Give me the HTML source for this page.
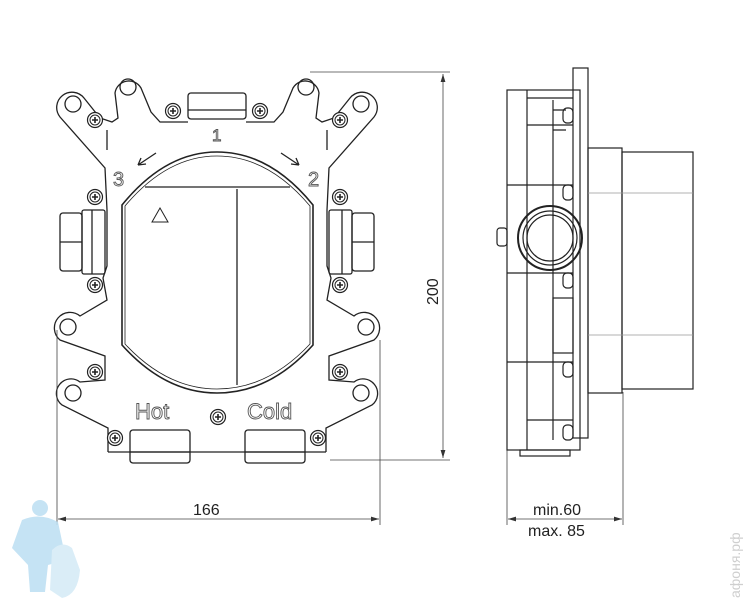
<!DOCTYPE html>
<html><head><meta charset="utf-8"><style>
html,body{margin:0;padding:0;background:#fff}
svg{display:block}
text{font-family:"Liberation Sans",sans-serif}
</style></head><body>
<svg width="750" height="610" viewBox="0 0 750 610" xmlns="http://www.w3.org/2000/svg">
<defs>
<g id="scr"><circle r="7.5" fill="#fff" stroke="#222" stroke-width="1.2"/><circle r="5" fill="none" stroke="#222" stroke-width="1"/><path d="M-3 0H3M0 -3V3" stroke="#222" stroke-width="1.6"/></g>
<marker id="ar" markerWidth="10" markerHeight="6" refX="10" refY="3" orient="auto-start-reverse"><path d="M0 0L10 3L0 6z" fill="#333"/></marker>
<g id="half" fill="none" stroke="#222" stroke-width="1.3">
  <path d="M188 122 L160 122 L151 112 L141 88 A14 14 0 0 0 115 93 L118 118 L112 122 L100 118 L84 98 A15 15 0 0 0 60 117 L105 168 L107 210 L107 266 L103 278 L107 300 L80 316 A14 14 0 0 0 60 340 L105 356 L105 380 L80 382 A14 14 0 0 0 62 405 L108 428 L108 452"/>
  <circle cx="128" cy="87" r="8"/>
  <circle cx="73" cy="104" r="8"/>
  <circle cx="68" cy="327" r="8"/>
  <circle cx="73" cy="393" r="8"/>
  <line x1="107" y1="130" x2="107" y2="150" />
  <rect x="60" y="213" width="22" height="58" rx="3"/>
  <line x1="60" y1="242" x2="82" y2="242"/>
  <rect x="82" y="210" width="23" height="64" rx="2"/>
  <line x1="92" y1="210" x2="92" y2="274"/>
</g>
</defs>
<rect width="750" height="610" fill="#fff"/>
<use href="#half"/>
<use href="#half" transform="translate(434,0) scale(-1,1)"/>
<g fill="none" stroke="#222" stroke-width="1.3">
  <rect x="188" y="93" width="58" height="26" rx="3"/>
  <line x1="188" y1="110" x2="246" y2="110"/>
  <path d="M108 452 L326 452"/>
  <path d="M122 205 Q165 152 217 152 Q270 152 313 205 L313 345 Q270 393 217 393 Q165 393 122 345 Z" stroke-width="1.6"/>
  <path d="M125 206 Q167 156 217 156 Q268 156 310 206 L310 344 Q268 389 217 389 Q167 389 125 344 Z" stroke-width="0.8"/>
  <line x1="145" y1="187" x2="290" y2="187"/>
  <line x1="237" y1="189" x2="237" y2="385"/>
  <rect x="130" y="430" width="60" height="33" rx="3"/>
  <line x1="130" y1="452" x2="190" y2="452"/>
  <rect x="245" y="430" width="60" height="33" rx="3"/>
  <line x1="245" y1="452" x2="305" y2="452"/>
  <path d="M156 153 L138 165 M138 165 L146 164 M138 165 L141 158"/>
  <path d="M281 153 L299 165 M299 165 L291 164 M299 165 L296 158"/>
  <path d="M160 208 L152 222 L168 222 Z" stroke-width="1"/>
</g>
<use href="#scr" x="95" y="120"/><use href="#scr" x="173" y="111"/><use href="#scr" x="260" y="111"/><use href="#scr" x="340" y="120"/>
<use href="#scr" x="95" y="197"/><use href="#scr" x="340" y="197"/>
<use href="#scr" x="95" y="285"/><use href="#scr" x="340" y="285"/>
<use href="#scr" x="95" y="372"/><use href="#scr" x="340" y="372"/>
<use href="#scr" x="115" y="438"/><use href="#scr" x="318" y="438"/><use href="#scr" x="218" y="417"/>
<g fill="#fff" stroke="#555" stroke-width="0.9">
  <text x="212" y="141" font-size="17">1</text>
  <text x="113" y="186" font-size="20">3</text>
  <text x="308" y="186" font-size="20">2</text>
  <text x="135" y="419" font-size="22">Hot</text>
  <text x="247" y="419" font-size="22">Cold</text>
</g>
<g stroke="#444" stroke-width="0.8" fill="none">
  <line x1="310" y1="72" x2="450" y2="72"/>
  <line x1="330" y1="460" x2="450" y2="460"/>
  <line x1="443" y1="74" x2="443" y2="458" marker-start="url(#ar)" marker-end="url(#ar)"/>
  <line x1="57" y1="330" x2="57" y2="525"/>
  <line x1="380" y1="340" x2="380" y2="525"/>
  <line x1="58" y1="519" x2="379" y2="519" marker-start="url(#ar)" marker-end="url(#ar)"/>
  <line x1="507" y1="450" x2="507" y2="525"/>
  <line x1="623" y1="392" x2="623" y2="525"/>
  <line x1="508" y1="519" x2="622" y2="519" marker-start="url(#ar)" marker-end="url(#ar)"/>
</g>
<g fill="#222" font-size="16">
  <text x="193" y="515">166</text>
  <text transform="translate(438,305) rotate(-90)">200</text>
  <text x="533" y="515">min.60</text>
  <text x="528" y="536">max. 85</text>
</g>
<g fill="none" stroke="#222" stroke-width="1.2">
  <rect x="573" y="68" width="15" height="370"/>
  <rect x="507" y="90" width="73" height="360"/>
  <line x1="527" y1="90" x2="527" y2="450"/>
  <line x1="553" y1="100" x2="553" y2="440"/>
  <path d="M527 98 H573 M527 125 H573 M507 185 H573 M507 273 H573 M507 362 H573 M527 420 H573"/>
  <path d="M553 110 H566 M553 130 H566"/>
  <rect x="563" y="185" width="10" height="15" rx="4"/>
  <rect x="563" y="273" width="10" height="15" rx="4"/>
  <rect x="563" y="362" width="10" height="15" rx="4"/>
  <rect x="563" y="108" width="10" height="15" rx="4"/>
  <rect x="563" y="425" width="10" height="15" rx="4"/>
  <rect x="497" y="228" width="10" height="18" rx="3"/>
  <rect x="520" y="450" width="50" height="6"/>
  <rect x="553" y="298" width="20" height="55"/>
  <circle cx="550" cy="238" r="32" stroke-width="2"/>
  <circle cx="550" cy="238" r="27"/>
  <circle cx="550" cy="238" r="23"/>
  <rect x="588" y="148" width="34" height="245"/>
  <rect x="622" y="152" width="71" height="237"/>
  <path d="M588 193 H693 M588 335 H693" stroke="#999" stroke-width="0.7"/>
</g>
<g fill="#bfe0f3" opacity="0.9">
  <circle cx="40" cy="508" r="8"/>
  <path d="M22 520 Q40 512 58 522 L66 560 L48 565 L45 592 L30 592 L28 565 L12 548 Z"/>
  <path d="M52 550 Q62 540 72 548 L80 570 Q78 595 62 598 L50 590 Z" fill="#d7ecf7"/>
</g>
<text transform="translate(740,598) rotate(-90)" font-size="14" fill="#cfcfcf">афоня.рф</text>
</svg>
</body></html>
